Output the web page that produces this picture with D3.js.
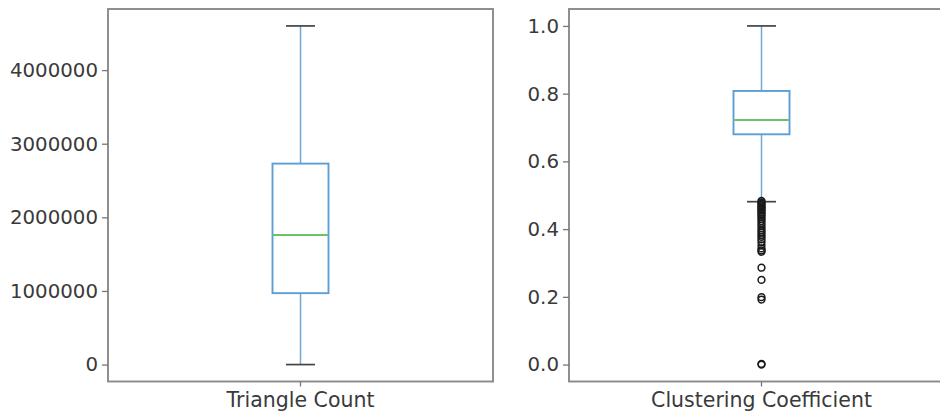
<!DOCTYPE html>
<html>
<head>
<meta charset="utf-8">
<script src="https://cdn.jsdelivr.net/npm/d3@7"></script>
<style>
  html, body { margin: 0; padding: 0; background: #fff; }
  svg { display: block; }
  text { font-family: "DejaVu Sans", sans-serif; fill: #3a3a3a; }
</style>
</head>
<body>
<svg id="chart" width="940" height="412"></svg>
<script>
// Summary statistics for each box plot
const categories   = ["Triangle Count", "Clustering Coefficient"];
const whiskerLow   = [0, 0.481];
const quartile1    = [970000, 0.680];
const medians      = [1760000, 0.722];
const quartile3    = [2730000, 0.808];
const whiskerHigh  = [4600000, 1.0];
const outliers     = [
  [],
  [0.483, 0.479, 0.475, 0.471, 0.467, 0.463, 0.459, 0.455, 0.450, 0.446,
   0.441, 0.436, 0.430, 0.424, 0.417, 0.410, 0.403, 0.396, 0.390, 0.383,
   0.377, 0.370, 0.362, 0.352, 0.343, 0.337, 0.333, 0.286, 0.250, 0.199,
   0.192, 0.0, 0.002]
];
const tickValues = [
  [0, 1000000, 2000000, 3000000, 4000000],
  [0.0, 0.2, 0.4, 0.6, 0.8, 1.0]
];
const tickFormats = [d3.format("d"), d3.format(".1f")];

// Panel geometry
const panels = [
  { left: 108, right: 493 },
  { left: 569, right: 954 }
];
const plotTop = 9, plotBottom = 381.5;

const svg = d3.select("#chart");

categories.forEach((cat, i) => {
  const p = panels[i];
  const all = [whiskerLow[i], whiskerHigh[i], ...outliers[i]];
  const lo = d3.min(all), hi = d3.max(all);
  const pad = (hi - lo) * 0.05;

  const y = d3.scaleLinear().domain([lo - pad, hi + pad]).range([plotBottom, plotTop]);
  const x = d3.scaleBand().domain([cat]).range([p.left, p.right]).paddingInner(0).paddingOuter(0);
  const cx = x(cat) + x.bandwidth() / 2;
  const boxW = 56, capW = 29;

  const g = svg.append("g");

  // Whiskers
  g.append("line")
    .attr("x1", cx).attr("x2", cx)
    .attr("y1", y(quartile3[i])).attr("y2", y(whiskerHigh[i]))
    .attr("stroke", "#6fa8d6").attr("stroke-width", 1.5);
  g.append("line")
    .attr("x1", cx).attr("x2", cx)
    .attr("y1", y(quartile1[i])).attr("y2", y(whiskerLow[i]))
    .attr("stroke", "#6fa8d6").attr("stroke-width", 1.5);

  // Caps
  [whiskerLow[i], whiskerHigh[i]].forEach(v => {
    g.append("line")
      .attr("x1", cx - capW / 2).attr("x2", cx + capW / 2)
      .attr("y1", y(v)).attr("y2", y(v))
      .attr("stroke", "#444").attr("stroke-width", 1.7);
  });

  // Box
  g.append("rect")
    .attr("x", cx - boxW / 2).attr("width", boxW)
    .attr("y", y(quartile3[i])).attr("height", y(quartile1[i]) - y(quartile3[i]))
    .attr("fill", "none").attr("stroke", "#5b9fd6").attr("stroke-width", 1.9);

  // Median
  g.append("line")
    .attr("x1", cx - boxW / 2).attr("x2", cx + boxW / 2)
    .attr("y1", y(medians[i])).attr("y2", y(medians[i]))
    .attr("stroke", "#6cc06c").attr("stroke-width", 1.9);

  // Outliers
  g.selectAll("circle.out").data(outliers[i]).join("circle")
    .attr("class", "out")
    .attr("cx", cx).attr("cy", d => y(d)).attr("r", 3.4)
    .attr("fill", "none").attr("stroke", "#1a1a1a").attr("stroke-width", 1.5);

  // Frame
  g.append("rect")
    .attr("x", p.left).attr("y", plotTop)
    .attr("width", p.right - p.left).attr("height", plotBottom - plotTop)
    .attr("fill", "none").attr("stroke", "#8a8a8a").attr("stroke-width", 1.9);

  // Y axis
  const yAxis = g.append("g")
    .attr("transform", `translate(${p.left},0)`)
    .call(d3.axisLeft(y).tickValues(tickValues[i]).tickFormat(tickFormats[i]).tickSize(6).tickPadding(4));
  yAxis.select(".domain").remove();
  yAxis.selectAll(".tick line").attr("stroke", "#777").attr("stroke-width", 1.3);
  yAxis.selectAll(".tick text")
    .attr("font-size", 19.8).attr("fill", "#3a3a3a")
    .style("font-family", "DejaVu Sans, sans-serif");

  // X axis
  const xAxis = g.append("g")
    .attr("transform", `translate(0,${plotBottom})`)
    .call(d3.axisBottom(x).tickSize(5).tickPadding(6));
  xAxis.select(".domain").remove();
  xAxis.selectAll(".tick line").attr("stroke", "#777").attr("stroke-width", 1.3);
  xAxis.selectAll(".tick text")
    .attr("font-size", 20.5).attr("fill", "#3a3a3a")
    .style("font-family", "DejaVu Sans, sans-serif");
});
</script>
</body>
</html>
